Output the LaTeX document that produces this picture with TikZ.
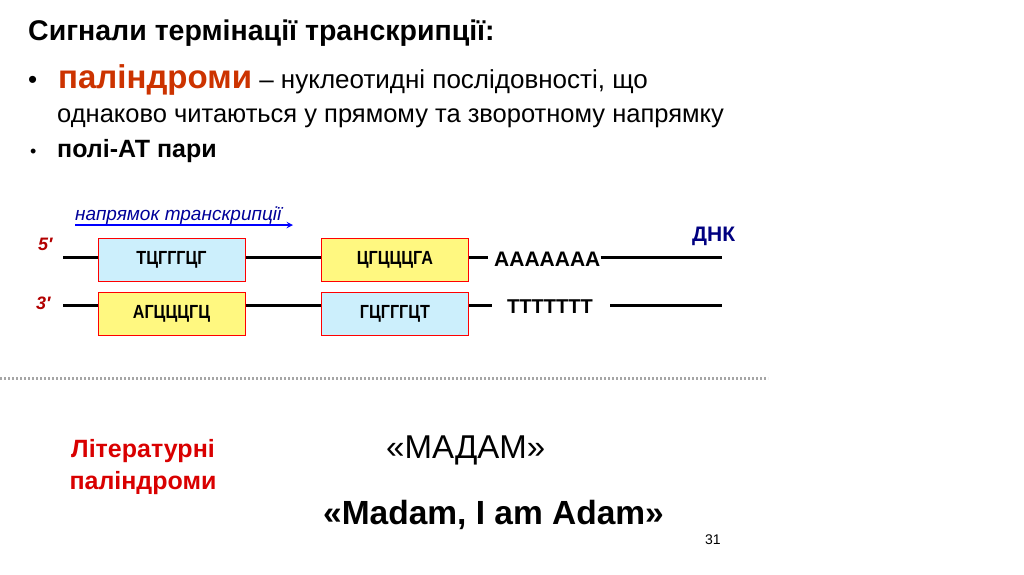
\documentclass[tikz,border=0pt]{standalone}
\usepackage{fontspec}
\setmainfont{Liberation Sans}
\newfontfamily\condf[FakeStretch=0.85]{Liberation Sans}
\begin{document}
\begin{tikzpicture}[x=1pt,y=-1pt,
  seq/.style={draw=red,line width=1pt,minimum width=147pt,minimum height=43pt,font=\condf\bfseries\fontsize{19}{22}\selectfont,inner sep=0pt},
  cy/.style={seq,fill=cyan!20},
  ye/.style={seq,fill=yellow!50},
  strand/.style={line width=3pt},
  lbl/.style={anchor=west,inner sep=0pt,font=\bfseries\fontsize{20}{22}\selectfont}]
\useasboundingbox (0,0) rectangle (1024,574);
\node[anchor=base west,inner sep=0pt,font=\bfseries\fontsize{28.5}{32}\selectfont] (title) at (28,40) {Сигнали термінації транскрипції:};
\node[anchor=base west,inner sep=0pt,font=\fontsize{26}{26}\selectfont] (b1) at (28,88) {•};
\node[anchor=base west,inner sep=0pt,font=\fontsize{26}{30}\selectfont] (l1) at (58,88) {{\color[HTML]{CC3300}\bfseries\fontsize{33}{36}\selectfont паліндроми} – нуклеотидні послідовності, що};
\node[anchor=base west,inner sep=0pt,font=\fontsize{25.5}{30}\selectfont] (l2) at (57,122) {однаково читаються у прямому та зворотному напрямку};
\node[anchor=base west,inner sep=0pt,font=\fontsize{18}{20}\selectfont] (b2) at (30,157) {•};
\node[anchor=base west,inner sep=0pt,font=\bfseries\fontsize{25}{28}\selectfont] (l3) at (57,157) {полі-АТ пари};
\node[anchor=base west,inner sep=0pt,font=\itshape\fontsize{19}{22}\selectfont,text=blue!60!black] (dir) at (75,220) {напрямок транскрипції};
\coordinate (a0) at (75,225); \coordinate (a1) at (293,225);
\draw[blue,line width=1.8pt,-stealth] (a0) -- (a1);
\node[anchor=base west,inner sep=0pt,font=\bfseries\itshape\fontsize{18}{20}\selectfont,text=red!70!black] (p5) at (38,250) {5′};
\node[anchor=base west,inner sep=0pt,font=\bfseries\itshape\fontsize{18}{20}\selectfont,text=red!70!black] (p3) at (36,309) {3′};
\node[anchor=base west,inner sep=0pt,font=\bfseries\fontsize{21}{24}\selectfont,text=blue!50!black] (dnk) at (692,241) {ДНК};
\node[cy] (t1) at (171.5,259.5) {ТЦГГГЦГ};
\node[ye] (t2) at (395,259.5) {ЦГЦЦЦГА};
\node[ye] (b1x) at (171.5,313.5) {АГЦЦЦГЦ};
\node[cy] (b2x) at (395,313.5) {ГЦГГГЦТ};
\node[lbl,font=\bfseries\fontsize{21}{22}\selectfont] (aa) at (494,259) {AAAAAAA};
\node[lbl] (tt) at (507,307) {TTTTTTT};
\coordinate (s0) at (63,257); \coordinate (s1) at (488,257); \coordinate (s2) at (722,257);
\coordinate (r0) at (63,305); \coordinate (r1) at (492,305); \coordinate (r2) at (610,305); \coordinate (r3) at (722,305);
\draw[strand] (s0) -- (t1.west|-s0); \draw[strand] (t1.east|-s0) -- (t2.west|-s0);
\draw[strand] (t2.east|-s0) -- (s1); \draw[strand] (aa.east|-s0) -- (s2);
\draw[strand] (r0) -- (b1x.west|-r0); \draw[strand] (b1x.east|-r0) -- (b2x.west|-r0);
\draw[strand] (b2x.east|-r0) -- (r1); \draw[strand] (r2) -- (r3);
\coordinate (d0) at (0,378); \coordinate (d1) at (768,378);
\draw[gray!70,line width=3pt,dash pattern=on 2pt off 2pt] (d0) -- (d1);
\node[align=center,font=\bfseries\fontsize{25}{32}\selectfont,text=red!85!black] (lit) at (143,467) {Літературні\\паліндроми};
\node[anchor=base west,inner sep=0pt,font=\fontsize{33}{36}\selectfont] (m1) at (386,458) {«МАДАМ»};
\node[anchor=base west,inner sep=0pt,font=\bfseries\fontsize{33.5}{36}\selectfont] (m2) at (323,524) {«Madam, I am Adam»};
\node[anchor=base west,inner sep=0pt,font=\fontsize{14}{16}\selectfont] (pg) at (705,544) {31};
\end{tikzpicture}
\end{document}
